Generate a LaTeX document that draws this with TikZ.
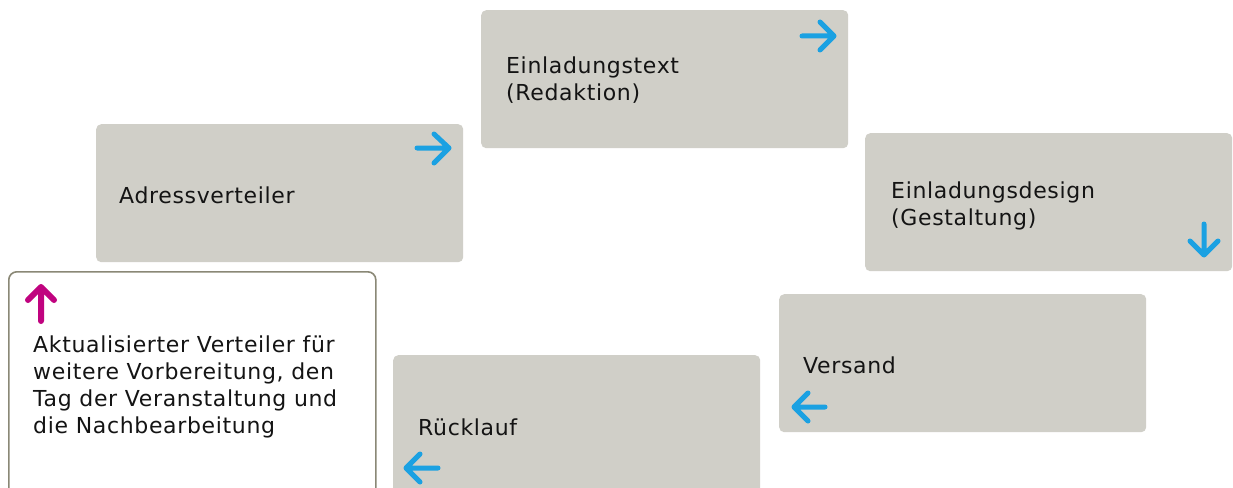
\documentclass[tikz,border=0pt]{standalone}
\usepackage{fontspec}
\setmainfont{DejaVu Sans}[LetterSpace=3]
\definecolor{boxgrey}{HTML}{D0CFC8}
\definecolor{frame}{HTML}{8A8876}
\definecolor{flowblue}{HTML}{1BA1E2}
\definecolor{flowpink}{HTML}{C0037F}
\definecolor{ink}{HTML}{141414}
\tikzset{
  stepbox/.style={fill=boxgrey, rounded corners=5pt, inner sep=0pt, anchor=north west,
                  minimum width=367pt, minimum height=138pt},
  notebox/.style={fill=white, draw=frame, line width=1.6pt, rounded corners=8pt, inner sep=0pt,
                  anchor=north west, minimum width=367pt, minimum height=260pt},
  % multi-line captions are placed by the baseline of their last line
  caption/.style={anchor=base west, inner sep=0pt, text=ink, align=left,
                  font=\fontsize{22}{27}\selectfont},
  flow/.style={flowblue, line width=5pt, line cap=round, line join=round},
  back/.style={flowpink, line width=6pt, line cap=round, line join=round}
}
\begin{document}
\begin{tikzpicture}[x=1pt, y=-1pt]
  \clip (0,0) rectangle (1233,487);
  \fill[white] (0,0) rectangle (1233,487);

  % step boxes
  \node[stepbox] (adr)  at (96,124)  {};
  \node[stepbox] (text) at (481,10)  {};
  \node[stepbox] (dsgn) at (865,133) {};
  \node[stepbox] (vers) at (779,294) {};
  \node[stepbox] (rueck) at (393,355) {};
  \node[notebox] (note) at (8,271)  {};

  % labels
  \node[caption] (adrT)  at (119,203) {Adressverteiler};
  \node[caption] (textT) at (506,100) {Einladungstext\\(Redaktion)};
  \node[caption] (dsgnT) at (891,225) {Einladungsdesign\\(Gestaltung)};
  \node[caption] (versT) at (803,373) {Versand};
  \node[caption] (rueckT) at (418,435) {Rücklauf};
  \node[caption] (noteT) at (33,433)  {Aktualisierter Verteiler für\\weitere Vorbereitung, den\\Tag der Veranstaltung und\\die Nachbearbeitung};

  % direction marks
  \draw[flow] (417,148) -- (449,148) (434,134) -- (449,148) -- (434,163);
  \draw[flow] (802,36) -- (834,36) (820,22) -- (834,36) -- (820,50);
  \draw[flow] (1204,224) -- (1204,255) (1190,241) -- (1204,255) -- (1218,241);
  \draw[flow] (825,407) -- (794,407) (808,393) -- (794,407) -- (808,421);
  \draw[flow] (438,468) -- (406,468) (420,454) -- (406,468) -- (420,482);
  \draw[back] (41,321) -- (41,287) (28,300) -- (41,287) -- (54,300);
\end{tikzpicture}
\end{document}
